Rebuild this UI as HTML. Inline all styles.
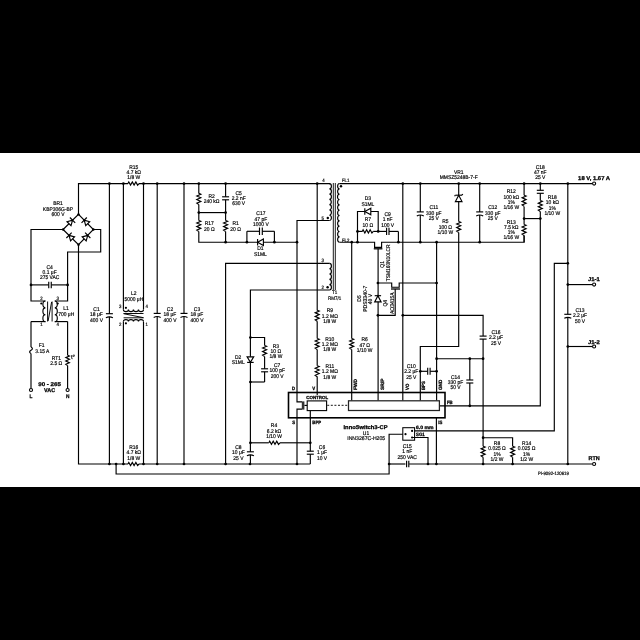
<!DOCTYPE html>
<html><head><meta charset="utf-8"><style>
html,body{margin:0;padding:0;background:#000;}
svg{display:block;will-change:transform;}
path{fill:none;stroke:#000;stroke-width:1.15;stroke-linejoin:miter;}
.w{fill:#fff;}
.f{fill:#000;stroke:none;}
.o{fill:#fff;stroke:#000;stroke-width:1.1;}
text{font-family:"Liberation Sans",sans-serif;text-rendering:geometricPrecision;fill:#000;stroke:#000;stroke-width:1.8;}
.b{font-weight:bold;stroke-width:2.6;}
</style></head><body>
<svg width="640" height="640" viewBox="0 0 640 640">
<rect x="0" y="0" width="640" height="640" fill="#000"/>
<rect x="0" y="153" width="640" height="334" fill="#fff"/>
<path d="M63.1,229.5 L78.5,214.4 L93.4,229.5 L78.5,244.7 L63.1,229.5"/>
<g transform="translate(70.8,221.95) rotate(-45)"><path d="M-2.5,-2.8 L-2.5,2.8 L2.5,0Z" class="w"/><path d="M2.5,-3.75 L2.5,3.75"/></g>
<g transform="translate(85.95,221.95) rotate(225)"><path d="M-2.5,-2.8 L-2.5,2.8 L2.5,0Z" class="w"/><path d="M2.5,-3.75 L2.5,3.75"/></g>
<g transform="translate(70.8,237.1) rotate(225)"><path d="M-2.5,-2.8 L-2.5,2.8 L2.5,0Z" class="w"/><path d="M2.5,-3.75 L2.5,3.75"/></g>
<g transform="translate(85.95,237.1) rotate(-45)"><path d="M-2.5,-2.8 L-2.5,2.8 L2.5,0Z" class="w"/><path d="M2.5,-3.75 L2.5,3.75"/></g>
<circle cx="78.5" cy="214.4" r="1.2" class="f"/>
<circle cx="63.1" cy="229.5" r="1.2" class="f"/>
<circle cx="93.4" cy="229.5" r="1.2" class="f"/>
<circle cx="78.5" cy="244.7" r="1.2" class="f"/>
<text class="t" text-anchor="middle" transform="translate(58,205.42) scale(0.09,0.1)" font-size="55">BR1</text>
<text class="t" text-anchor="middle" transform="translate(58,210.77) scale(0.09,0.1)" font-size="55">KBP306G-BP</text>
<text class="t" text-anchor="middle" transform="translate(58,216.12) scale(0.09,0.1)" font-size="55">600 V</text>
<path d="M78.5,214.4 L78.5,183.55 L128,183.55"/>
<path d="M139,183.55 L330,183.55"/>
<path d="M63.1,229.5 L31,229.5 L31,284.9"/>
<path d="M93.4,229.5 L100.7,229.5 L100.7,252 L67.6,252 L67.6,284.9"/>
<path d="M78.5,244.7 L78.5,464 L128,464"/>
<path d="M139,464 L310.3,464"/>
<path d="M31,284.9 L48.75,284.9"/>
<path d="M51.25,284.9 L67.6,284.9"/>
<path d="M48.75,281.65 L48.75,288.15 M51.25,281.65 L51.25,288.15"/>
<circle cx="31" cy="284.9" r="1.35" class="f"/>
<circle cx="67.6" cy="284.9" r="1.35" class="f"/>
<text class="t" text-anchor="middle" transform="translate(49.6,268.52) scale(0.09,0.1)" font-size="55">C4</text>
<text class="t" text-anchor="middle" transform="translate(49.6,273.87) scale(0.09,0.1)" font-size="55">0.1 μF</text>
<text class="t" text-anchor="middle" transform="translate(49.6,279.22) scale(0.09,0.1)" font-size="55">275 VAC</text>
<path d="M31,284.9 L31,301 L45.4,301"/>
<path d="M67.6,284.9 L67.6,301 L54.8,301"/>
<path d="M31,321.6 L45.4,321.6"/>
<path d="M67.6,321.6 L54.8,321.6"/>
<path d="M45.4,301 A2.5,3.43 0 0 0 45.4,307.87 A2.5,3.43 0 0 0 45.4,314.73 A2.5,3.43 0 0 0 45.4,321.6"/>
<path d="M54.8,301 A2.5,3.43 0 0 1 54.8,307.87 A2.5,3.43 0 0 1 54.8,314.73 A2.5,3.43 0 0 1 54.8,321.6"/>
<path d="M47.6,301.5 L47.6,321.5 M52.1,301.5 L52.1,321.5 M51.6,302 L48.1,321" style="stroke-width:0.95"/>
<circle cx="41.3" cy="303.5" r="1.1" class="f"/>
<circle cx="57.7" cy="303.5" r="1.1" class="f"/>
<text class="t" text-anchor="middle" transform="translate(41.4,300.23) scale(0.09,0.1)" font-size="48">2</text>
<text class="t" text-anchor="middle" transform="translate(57.7,300.23) scale(0.09,0.1)" font-size="48">3</text>
<text class="t" text-anchor="middle" transform="translate(41.4,326.43) scale(0.09,0.1)" font-size="48">1</text>
<text class="t" text-anchor="middle" transform="translate(57.7,326.43) scale(0.09,0.1)" font-size="48">4</text>
<text class="t" text-anchor="middle" transform="translate(66,310.27) scale(0.09,0.1)" font-size="55">L1</text>
<text class="t" text-anchor="middle" transform="translate(66.2,315.77) scale(0.09,0.1)" font-size="55">700 μH</text>
<path d="M31,321.6 L31,347"/>
<path d="M31,347 Q33.8,348.6 31,350.3 Q28.2,352 31,353.6"/>
<path d="M31,353.6 L31,388.4"/>
<text class="t" text-anchor="middle" transform="translate(41.6,347.37) scale(0.09,0.1)" font-size="55">F1</text>
<text class="t" text-anchor="middle" transform="translate(42.3,352.97) scale(0.09,0.1)" font-size="55">3.15 A</text>
<circle cx="31" cy="390" r="1.55" class="o"/>
<path d="M67.6,321.6 L67.6,355.2"/>
<path d="M67.6,355.2 L69.4,355.94 L65.8,357.61 L69.4,359.29 L65.8,360.96 L69.4,362.63 L65.8,364.3 L67.6,365.6"/>
<path d="M67.6,365.6 L67.6,388.4"/>
<text class="t" text-anchor="middle" transform="translate(73,359.11) scale(0.1,0.1)" font-size="62">t°</text>
<text class="t" text-anchor="middle" transform="translate(56.3,359.69) scale(0.09,0.1)" font-size="55">RT1</text>
<text class="t" text-anchor="middle" transform="translate(56.3,365.05) scale(0.09,0.1)" font-size="55">2.5 Ω</text>
<circle cx="67.6" cy="390" r="1.55" class="o"/>
<text class="b" text-anchor="middle" transform="translate(49.6,386.47) scale(0.09,0.1)" font-size="55" textLength="251.11" lengthAdjust="spacingAndGlyphs">90 - 265</text>
<text class="b" text-anchor="middle" transform="translate(49.6,391.87) scale(0.09,0.1)" font-size="55" textLength="122.22" lengthAdjust="spacingAndGlyphs">VAC</text>
<text class="b" text-anchor="middle" transform="translate(31,397.6) scale(0.09,0.1)" font-size="53">L</text>
<text class="b" text-anchor="middle" transform="translate(67.6,397.6) scale(0.09,0.1)" font-size="53">N</text>
<circle cx="109.4" cy="183.55" r="1.35" class="f"/>
<circle cx="123.4" cy="183.55" r="1.35" class="f"/>
<circle cx="143.5" cy="183.55" r="1.35" class="f"/>
<circle cx="157.2" cy="183.55" r="1.35" class="f"/>
<circle cx="184" cy="183.55" r="1.35" class="f"/>
<circle cx="198.8" cy="183.55" r="1.35" class="f"/>
<circle cx="225.6" cy="183.55" r="1.35" class="f"/>
<circle cx="317.2" cy="183.55" r="1.35" class="f"/>
<circle cx="109.4" cy="464" r="1.35" class="f"/>
<circle cx="116.1" cy="464" r="1.35" class="f"/>
<circle cx="123.4" cy="464" r="1.35" class="f"/>
<circle cx="143.5" cy="464" r="1.35" class="f"/>
<circle cx="157.2" cy="464" r="1.35" class="f"/>
<circle cx="184" cy="464" r="1.35" class="f"/>
<circle cx="225.6" cy="464" r="1.35" class="f"/>
<circle cx="250" cy="464" r="1.35" class="f"/>
<circle cx="297" cy="464" r="1.35" class="f"/>
<path d="M109.4,183.55 L109.4,313.7"/>
<path d="M109.4,316.7 L109.4,464"/>
<path d="M105.9,313.7 L112.9,313.7"/>
<path d="M105.9,317.7 Q109.4,315.9 112.9,317.7"/>
<text class="t" text-anchor="middle" transform="translate(96.5,311.12) scale(0.09,0.1)" font-size="55">C1</text>
<text class="t" text-anchor="middle" transform="translate(96.5,316.47) scale(0.09,0.1)" font-size="55">18 μF</text>
<text class="t" text-anchor="middle" transform="translate(96.5,321.82) scale(0.09,0.1)" font-size="55">400 V</text>
<path d="M128,183.55 L128.79,181.95 L130.55,185.15 L132.32,181.95 L134.09,185.15 L135.86,181.95 L137.62,185.15 L139,183.55"/>
<path d="M128,464 L128.79,462.4 L130.55,465.6 L132.32,462.4 L134.09,465.6 L135.86,462.4 L137.62,465.6 L139,464"/>
<text class="t" text-anchor="middle" transform="translate(133.8,168.72) scale(0.09,0.1)" font-size="55">R15</text>
<text class="t" text-anchor="middle" transform="translate(133.8,174.07) scale(0.09,0.1)" font-size="55">4.7 kΩ</text>
<text class="t" text-anchor="middle" transform="translate(133.8,179.42) scale(0.09,0.1)" font-size="55">1/8 W</text>
<text class="t" text-anchor="middle" transform="translate(133.8,448.82) scale(0.09,0.1)" font-size="55">R16</text>
<text class="t" text-anchor="middle" transform="translate(133.8,454.17) scale(0.09,0.1)" font-size="55">4.7 kΩ</text>
<text class="t" text-anchor="middle" transform="translate(133.8,459.52) scale(0.09,0.1)" font-size="55">1/8 W</text>
<path d="M123.4,183.55 L123.4,309.4"/>
<path d="M143.5,183.55 L143.5,309.4"/>
<path d="M123.4,309.4 A2.51,2.2 0 0 0 128.43,309.4 A2.51,2.2 0 0 0 133.45,309.4 A2.51,2.2 0 0 0 138.47,309.4 A2.51,2.2 0 0 0 143.5,309.4"/>
<path d="M123.6,313.5 L143.5,313.5 M123.6,313.7 L143.5,317.7 M123.6,317.8 L143.5,317.8" style="stroke-width:0.95"/>
<path d="M123.4,321.6 A2.51,2 0 0 1 128.43,321.6 A2.51,2 0 0 1 133.45,321.6 A2.51,2 0 0 1 138.47,321.6 A2.51,2 0 0 1 143.5,321.6"/>
<path d="M123.4,321.6 L123.4,464"/>
<path d="M143.5,321.6 L143.5,464"/>
<circle cx="125.9" cy="307.8" r="1.1" class="f"/>
<circle cx="125.9" cy="323.3" r="1.1" class="f"/>
<text class="t" text-anchor="middle" transform="translate(133.8,294.97) scale(0.09,0.1)" font-size="55">L2</text>
<text class="t" text-anchor="middle" transform="translate(133.8,300.57) scale(0.09,0.1)" font-size="55">5000 μH</text>
<text class="t" text-anchor="middle" transform="translate(120.3,308.43) scale(0.09,0.1)" font-size="48">3</text>
<text class="t" text-anchor="middle" transform="translate(146.6,308.43) scale(0.09,0.1)" font-size="48">4</text>
<text class="t" text-anchor="middle" transform="translate(120.3,326.33) scale(0.09,0.1)" font-size="48">2</text>
<text class="t" text-anchor="middle" transform="translate(146.6,326.33) scale(0.09,0.1)" font-size="48">1</text>
<path d="M157.2,183.55 L157.2,313.4"/>
<path d="M157.2,316.4 L157.2,464"/>
<path d="M153.7,313.4 L160.7,313.4"/>
<path d="M153.7,317.4 Q157.2,315.6 160.7,317.4"/>
<text class="t" text-anchor="middle" transform="translate(170,311.12) scale(0.09,0.1)" font-size="55">C2</text>
<text class="t" text-anchor="middle" transform="translate(170,316.47) scale(0.09,0.1)" font-size="55">18 μF</text>
<text class="t" text-anchor="middle" transform="translate(170,321.82) scale(0.09,0.1)" font-size="55">400 V</text>
<path d="M184,183.55 L184,313.4"/>
<path d="M184,316.4 L184,464"/>
<path d="M180.5,313.4 L187.5,313.4"/>
<path d="M180.5,317.4 Q184,315.6 187.5,317.4"/>
<text class="t" text-anchor="middle" transform="translate(197,311.12) scale(0.09,0.1)" font-size="55">C3</text>
<text class="t" text-anchor="middle" transform="translate(197,316.47) scale(0.09,0.1)" font-size="55">18 μF</text>
<text class="t" text-anchor="middle" transform="translate(197,321.82) scale(0.09,0.1)" font-size="55">400 V</text>
<path d="M198.8,183.55 L198.8,193.4"/>
<path d="M198.8,193.4 L200.8,194.2 L196.8,196 L200.8,197.8 L196.8,199.6 L200.8,201.4 L196.8,203.2 L198.8,204.6"/>
<path d="M198.8,204.6 L198.8,220.6"/>
<path d="M198.8,220.5 L200.8,221.29 L196.8,223.05 L200.8,224.82 L196.8,226.59 L200.8,228.36 L196.8,230.12 L198.8,231.5"/>
<path d="M198.8,231.5 L198.8,242.2 L225.6,242.2"/>
<path d="M198.8,212.6 L225.6,212.6"/>
<circle cx="198.8" cy="212.6" r="1.35" class="f"/>
<circle cx="225.6" cy="212.6" r="1.35" class="f"/>
<path d="M225.6,183.55 L225.6,196.8"/>
<path d="M225.6,199.8 L225.6,212.6"/>
<path d="M222.1,196.8 L229.1,196.8"/>
<path d="M222.1,199.8 L229.1,199.8"/>
<path d="M225.6,212.6 L225.6,220.5"/>
<path d="M225.6,220.5 L227.6,221.29 L223.6,223.05 L227.6,224.82 L223.6,226.59 L227.6,228.36 L223.6,230.12 L225.6,231.5"/>
<path d="M225.6,231.5 L225.6,242.2"/>
<text class="t" text-anchor="middle" transform="translate(211.6,197.5) scale(0.09,0.1)" font-size="55">R2</text>
<text class="t" text-anchor="middle" transform="translate(211.6,202.85) scale(0.09,0.1)" font-size="55">240 kΩ</text>
<text class="t" text-anchor="middle" transform="translate(209.3,225.39) scale(0.09,0.1)" font-size="55">R17</text>
<text class="t" text-anchor="middle" transform="translate(209.3,230.75) scale(0.09,0.1)" font-size="55">20 Ω</text>
<text class="t" text-anchor="middle" transform="translate(238.7,194.52) scale(0.09,0.1)" font-size="55">C5</text>
<text class="t" text-anchor="middle" transform="translate(238.7,199.87) scale(0.09,0.1)" font-size="55">2.2 nF</text>
<text class="t" text-anchor="middle" transform="translate(238.7,205.22) scale(0.09,0.1)" font-size="55">630 V</text>
<text class="t" text-anchor="middle" transform="translate(235.6,225.39) scale(0.09,0.1)" font-size="55">R1</text>
<text class="t" text-anchor="middle" transform="translate(235.6,230.75) scale(0.09,0.1)" font-size="55">20 Ω</text>
<path d="M225.6,242.2 L297,242.2"/>
<circle cx="225.6" cy="242.2" r="1.35" class="f"/>
<circle cx="246.9" cy="242.2" r="1.35" class="f"/>
<circle cx="274.4" cy="242.2" r="1.35" class="f"/>
<circle cx="297" cy="242.2" r="1.35" class="f"/>
<path d="M246.9,242.2 L246.9,231.3"/>
<path d="M274.4,242.2 L274.4,231.3"/>
<path d="M246.9,231.3 L259.5,231.3"/>
<path d="M262.3,231.3 L274.4,231.3"/>
<path d="M259.5,227.6 L259.5,235 M262.3,227.6 L262.3,235"/>
<g transform="translate(260.5,242.2) rotate(180)"><path d="M-2.9,-3.3 L-2.9,3.3 L2.9,0Z" class="w"/><path d="M2.9,-3.25 L2.9,3.25"/></g>
<text class="t" text-anchor="middle" transform="translate(260.9,215.22) scale(0.09,0.1)" font-size="55">C17</text>
<text class="t" text-anchor="middle" transform="translate(260.9,220.57) scale(0.09,0.1)" font-size="55">47 pF</text>
<text class="t" text-anchor="middle" transform="translate(260.9,225.92) scale(0.09,0.1)" font-size="55">1000 V</text>
<text class="t" text-anchor="middle" transform="translate(260.4,250.27) scale(0.09,0.1)" font-size="55">D1</text>
<text class="t" text-anchor="middle" transform="translate(260.4,255.87) scale(0.09,0.1)" font-size="55">S1ML</text>
<path d="M329.5,220.5 L297,220.5 L297,392.5"/>
<path d="M329.5,263.4 L225.6,263.4 L225.6,464"/>
<path d="M329.5,290 L250.4,290 L250.4,451.8"/>
<path d="M250.4,454.8 L250.4,464"/>
<circle cx="250.4" cy="337.5" r="1.35" class="f"/>
<circle cx="250.4" cy="382" r="1.35" class="f"/>
<path d="M250.4,337.5 L264.6,337.5 L264.6,345.5"/>
<path d="M264.6,345.5 L266.6,346.29 L262.6,348.05 L266.6,349.82 L262.6,351.59 L266.6,353.36 L262.6,355.12 L264.6,356.5"/>
<path d="M264.6,356.5 L264.6,368.8"/>
<path d="M264.6,371.8 L264.6,382"/>
<path d="M261.1,368.8 L268.1,368.8"/>
<path d="M261.1,371.8 L268.1,371.8"/>
<path d="M264.6,382 L250.4,382"/>
<g transform="translate(250.4,359.6) rotate(90)"><path d="M-2.8,-3.3 L-2.8,3.3 L2.8,0Z" class="w"/><path d="M2.8,-3.3 L2.8,3.3"/></g>
<text class="t" text-anchor="middle" transform="translate(238.2,358.67) scale(0.09,0.1)" font-size="55">D2</text>
<text class="t" text-anchor="middle" transform="translate(238.2,364.27) scale(0.09,0.1)" font-size="55">S1ML</text>
<text class="t" text-anchor="middle" transform="translate(275.9,347.72) scale(0.09,0.1)" font-size="55">R3</text>
<text class="t" text-anchor="middle" transform="translate(275.9,353.07) scale(0.09,0.1)" font-size="55">10 Ω</text>
<text class="t" text-anchor="middle" transform="translate(275.9,358.42) scale(0.09,0.1)" font-size="55">1/8 W</text>
<text class="t" text-anchor="middle" transform="translate(277.2,366.82) scale(0.09,0.1)" font-size="55">C7</text>
<text class="t" text-anchor="middle" transform="translate(277.2,372.17) scale(0.09,0.1)" font-size="55">100 pF</text>
<text class="t" text-anchor="middle" transform="translate(277.2,377.52) scale(0.09,0.1)" font-size="55">200 V</text>
<circle cx="250.4" cy="442.8" r="1.35" class="f"/>
<circle cx="310.3" cy="442.8" r="1.35" class="f"/>
<path d="M250.4,442.8 L268.8,442.8"/>
<path d="M268.9,442.8 L269.69,441.2 L271.45,444.4 L273.22,441.2 L274.99,444.4 L276.76,441.2 L278.52,444.4 L279.9,442.8"/>
<path d="M279.9,442.8 L310.3,442.8"/>
<text class="t" text-anchor="middle" transform="translate(274,427.32) scale(0.09,0.1)" font-size="55">R4</text>
<text class="t" text-anchor="middle" transform="translate(274,432.67) scale(0.09,0.1)" font-size="55">6.2 kΩ</text>
<text class="t" text-anchor="middle" transform="translate(274,438.02) scale(0.09,0.1)" font-size="55">1/10 W</text>
<path d="M246.9,451.8 L253.9,451.8"/>
<path d="M246.9,455.8 Q250.4,454 253.9,455.8"/>
<text class="t" text-anchor="middle" transform="translate(238.4,449.02) scale(0.09,0.1)" font-size="55">C8</text>
<text class="t" text-anchor="middle" transform="translate(238.4,454.37) scale(0.09,0.1)" font-size="55">10 μF</text>
<text class="t" text-anchor="middle" transform="translate(238.4,459.72) scale(0.09,0.1)" font-size="55">25 V</text>
<path d="M306.8,451.2 L313.8,451.2"/>
<path d="M306.8,454.2 L313.8,454.2"/>
<text class="t" text-anchor="middle" transform="translate(322,449.02) scale(0.09,0.1)" font-size="55">C6</text>
<text class="t" text-anchor="middle" transform="translate(322,454.37) scale(0.09,0.1)" font-size="55">1 μF</text>
<text class="t" text-anchor="middle" transform="translate(322,459.72) scale(0.09,0.1)" font-size="55">10 V</text>
<path d="M310.3,410.6 L310.3,451.2"/>
<path d="M310.3,454.2 L310.3,464"/>
<path d="M330,183.55 L329.5,183.55"/>
<path d="M329.4,183.55 A2,2.64 0 0 1 329.4,188.83 A2,2.64 0 0 1 329.4,194.11 A2,2.64 0 0 1 329.4,199.39 A2,2.64 0 0 1 329.4,204.66 A2,2.64 0 0 1 329.4,209.94 A2,2.64 0 0 1 329.4,215.22 A2,2.64 0 0 1 329.4,220.5"/>
<path d="M329.4,263.4 A2,2.66 0 0 1 329.4,268.72 A2,2.66 0 0 1 329.4,274.04 A2,2.66 0 0 1 329.4,279.36 A2,2.66 0 0 1 329.4,284.68 A2,2.66 0 0 1 329.4,290"/>
<path d="M339.5,183.55 A2,2.67 0 0 0 339.5,188.88 A2,2.67 0 0 0 339.5,194.21 A2,2.67 0 0 0 339.5,199.55 A2,2.67 0 0 0 339.5,204.88 A2,2.67 0 0 0 339.5,210.21 A2,2.67 0 0 0 339.5,215.54 A2,2.67 0 0 0 339.5,220.87 A2,2.67 0 0 0 339.5,226.2 A2,2.67 0 0 0 339.5,231.54 A2,2.67 0 0 0 339.5,236.87 A2,2.67 0 0 0 339.5,242.2"/>
<path d="M333.3,183 L333.3,290 M335.3,183 L335.3,290" style="stroke-width:0.9"/>
<circle cx="341" cy="186.3" r="1.2" class="f"/>
<circle cx="327.8" cy="218" r="1.2" class="f"/>
<circle cx="327.6" cy="287.3" r="1.2" class="f"/>
<text class="t" text-anchor="middle" transform="translate(323.4,182.43) scale(0.09,0.1)" font-size="48">4</text>
<text class="t" text-anchor="middle" transform="translate(322.8,219.73) scale(0.09,0.1)" font-size="48">5</text>
<text class="t" text-anchor="middle" transform="translate(322.8,262.03) scale(0.09,0.1)" font-size="48">3</text>
<text class="t" text-anchor="middle" transform="translate(322.8,289.03) scale(0.09,0.1)" font-size="48">2</text>
<text class="t" text-anchor="middle" transform="translate(345.7,182.43) scale(0.09,0.1)" font-size="48">FL1</text>
<text class="t" text-anchor="middle" transform="translate(345.7,241.53) scale(0.09,0.1)" font-size="48">FL2</text>
<text class="t" text-anchor="middle" transform="translate(334.7,294.25) scale(0.09,0.1)" font-size="50">T1</text>
<text class="t" text-anchor="middle" transform="translate(334.7,299.95) scale(0.09,0.1)" font-size="50">RM7/1</text>
<path d="M317.2,183.55 L317.2,310.4"/>
<path d="M317.2,310.3 L319.2,311.09 L315.2,312.85 L319.2,314.62 L315.2,316.39 L319.2,318.16 L315.2,319.93 L317.2,321.3"/>
<path d="M317.2,321.2 L317.2,338.6"/>
<path d="M317.2,338.5 L319.2,339.29 L315.2,341.05 L319.2,342.82 L315.2,344.59 L319.2,346.36 L315.2,348.12 L317.2,349.5"/>
<path d="M317.2,349.4 L317.2,365.8"/>
<path d="M317.2,365.7 L319.2,366.49 L315.2,368.25 L319.2,370.02 L315.2,371.79 L319.2,373.56 L315.2,375.32 L317.2,376.7"/>
<path d="M317.2,376.6 L317.2,395"/>
<text class="t" text-anchor="middle" transform="translate(329.8,312.42) scale(0.09,0.1)" font-size="55">R9</text>
<text class="t" text-anchor="middle" transform="translate(329.8,317.77) scale(0.09,0.1)" font-size="55">1.2 MΩ</text>
<text class="t" text-anchor="middle" transform="translate(329.8,323.12) scale(0.09,0.1)" font-size="55">1/8 W</text>
<text class="t" text-anchor="middle" transform="translate(329.8,340.62) scale(0.09,0.1)" font-size="55">R10</text>
<text class="t" text-anchor="middle" transform="translate(329.8,345.97) scale(0.09,0.1)" font-size="55">1.2 MΩ</text>
<text class="t" text-anchor="middle" transform="translate(329.8,351.32) scale(0.09,0.1)" font-size="55">1/8 W</text>
<text class="t" text-anchor="middle" transform="translate(329.8,367.92) scale(0.09,0.1)" font-size="55">R11</text>
<text class="t" text-anchor="middle" transform="translate(329.8,373.27) scale(0.09,0.1)" font-size="55">1.2 MΩ</text>
<text class="t" text-anchor="middle" transform="translate(329.8,378.62) scale(0.09,0.1)" font-size="55">1/8 W</text>
<path d="M339.5,183.55 L592.2,183.55"/>
<circle cx="594.1" cy="183.55" r="1.55" class="o"/>
<circle cx="402.8" cy="183.55" r="1.35" class="f"/>
<circle cx="420.3" cy="183.55" r="1.35" class="f"/>
<circle cx="458.7" cy="183.55" r="1.35" class="f"/>
<circle cx="479.7" cy="183.55" r="1.35" class="f"/>
<circle cx="524.1" cy="183.55" r="1.35" class="f"/>
<circle cx="540.3" cy="183.55" r="1.35" class="f"/>
<circle cx="567.8" cy="183.55" r="1.35" class="f"/>
<path d="M339.5,242.2 L374.6,242.2 L374.6,247.4 L381.6,247.4 L381.6,242.2 L524.1,242.2 L524.1,235.5"/>
<path d="M373.8,248.8 L382.4,248.8" style="stroke-width:1.3"/>
<path d="M378.1,248.8 L378.1,400.6"/>
<circle cx="351.7" cy="242.2" r="1.35" class="f"/>
<circle cx="357.5" cy="242.2" r="1.35" class="f"/>
<circle cx="398.4" cy="242.2" r="1.35" class="f"/>
<circle cx="420.3" cy="242.2" r="1.35" class="f"/>
<circle cx="436.6" cy="242.2" r="1.35" class="f"/>
<circle cx="479.7" cy="242.2" r="1.35" class="f"/>
<text class="t" text-anchor="middle" transform="translate(381.9,264.4) rotate(-90) translate(0,1.87) scale(0.09,0.1)" font-size="55">Q1</text>
<text class="t" text-anchor="middle" transform="translate(387.75,262.8) rotate(-90) translate(0,1.87) scale(0.09,0.1)" font-size="55" textLength="408.89" lengthAdjust="spacingAndGlyphs">TSM160N10LCR</text>
<path d="M357.5,242.2 L357.5,211.5 L364.6,211.5"/>
<path d="M371,211.5 L378.2,211.5 L378.2,231.4"/>
<g transform="translate(367.8,211.5) rotate(180)"><path d="M-3,-3.3 L-3,3.3 L3,0Z" class="w"/><path d="M3,-3.3 L3,3.3"/></g>
<path d="M357.5,231.4 L362.4,231.4"/>
<path d="M362.3,231.4 L363.09,229.8 L364.85,233 L366.62,229.8 L368.39,233 L370.16,229.8 L371.93,233 L373.3,231.4"/>
<path d="M373.2,231.4 L378.2,231.4"/>
<circle cx="357.5" cy="231.4" r="1.35" class="f"/>
<circle cx="378.2" cy="231.4" r="1.35" class="f"/>
<path d="M378.2,231.4 L386.6,231.4"/>
<path d="M389,231.4 L398.4,231.4"/>
<path d="M386.6,227.7 L386.6,235.1 M389,227.7 L389,235.1"/>
<path d="M398.4,231.4 L398.4,242.2"/>
<text class="t" text-anchor="middle" transform="translate(367.9,200.27) scale(0.09,0.1)" font-size="55">D3</text>
<text class="t" text-anchor="middle" transform="translate(367.9,205.87) scale(0.09,0.1)" font-size="55">S1ML</text>
<text class="t" text-anchor="middle" transform="translate(367.9,221.47) scale(0.09,0.1)" font-size="55">R7</text>
<text class="t" text-anchor="middle" transform="translate(367.9,227.07) scale(0.09,0.1)" font-size="55">10 Ω</text>
<text class="t" text-anchor="middle" transform="translate(387.6,216.12) scale(0.09,0.1)" font-size="55">C9</text>
<text class="t" text-anchor="middle" transform="translate(387.6,221.47) scale(0.09,0.1)" font-size="55">1 nF</text>
<text class="t" text-anchor="middle" transform="translate(387.6,226.82) scale(0.09,0.1)" font-size="55">100 V</text>
<path d="M351.7,242.2 L351.7,338.5"/>
<path d="M351.7,338.5 L353.7,339.29 L349.7,341.05 L353.7,342.82 L349.7,344.59 L353.7,346.36 L349.7,348.12 L351.7,349.5"/>
<path d="M351.7,349.5 L351.7,400.6"/>
<text class="t" text-anchor="middle" transform="translate(364.7,341.32) scale(0.09,0.1)" font-size="55">R6</text>
<text class="t" text-anchor="middle" transform="translate(364.7,346.67) scale(0.09,0.1)" font-size="55">47 Ω</text>
<text class="t" text-anchor="middle" transform="translate(364.7,352.02) scale(0.09,0.1)" font-size="55">1/10 W</text>
<circle cx="377.9" cy="283" r="1.35" class="f"/>
<circle cx="377.9" cy="315.3" r="1.35" class="f"/>
<g transform="translate(377.9,298.8) rotate(-90)"><path d="M-3.1,-3.2 L-3.1,3.2 L3.1,0Z" class="w"/><path d="M3.1,-3.2 L3.1,3.2"/></g>
<path d="M377.9,283 L391.7,283 L391.7,287.2 L399.2,287.2 L399.2,283 L436.6,283"/>
<path d="M391,289 L400,289" style="stroke-width:1.3"/>
<path d="M395.2,289 L395.2,315.3 L377.9,315.3"/>
<circle cx="436.6" cy="283" r="1.35" class="f"/>
<text class="t" text-anchor="middle" transform="translate(359.6,298.5) rotate(-90) translate(0,1.87) scale(0.09,0.1)" font-size="55">D5</text>
<text class="t" text-anchor="middle" transform="translate(364.9,298.8) rotate(-90) translate(0,1.87) scale(0.09,0.1)" font-size="55" textLength="288.89" lengthAdjust="spacingAndGlyphs">PDS3340-7</text>
<text class="t" text-anchor="middle" transform="translate(370.5,299.1) rotate(-90) translate(0,1.87) scale(0.09,0.1)" font-size="55">40 V</text>
<text class="t" text-anchor="middle" transform="translate(385.2,303.2) rotate(-90) translate(0,1.87) scale(0.09,0.1)" font-size="55">Q4</text>
<text class="t" text-anchor="middle" transform="translate(392.2,303.2) rotate(-90) translate(0,1.87) scale(0.09,0.1)" font-size="55">AO3415A</text>
<path d="M402.8,183.55 L402.8,400.6"/>
<circle cx="402.8" cy="315.3" r="1.35" class="f"/>
<path d="M402.8,315.3 L483.1,315.3 L483.1,336"/>
<path d="M483.1,336 L483.1,336.1"/>
<path d="M483.1,339.1 L483.1,446.3"/>
<path d="M479.6,336.1 L486.6,336.1"/>
<path d="M479.6,339.1 L486.6,339.1"/>
<path d="M483.1,446.3 L485.1,447.09 L481.1,448.85 L485.1,450.62 L481.1,452.39 L485.1,454.16 L481.1,455.93 L483.1,457.3"/>
<path d="M483.1,457.3 L483.1,464"/>
<text class="t" text-anchor="middle" transform="translate(496,333.92) scale(0.09,0.1)" font-size="55">C16</text>
<text class="t" text-anchor="middle" transform="translate(496,339.27) scale(0.09,0.1)" font-size="55">2.2 μF</text>
<text class="t" text-anchor="middle" transform="translate(496,344.62) scale(0.09,0.1)" font-size="55">25 V</text>
<path d="M420.3,183.55 L420.3,211.9"/>
<path d="M420.3,214.9 L420.3,242.2"/>
<path d="M416.8,211.9 L423.8,211.9"/>
<path d="M416.8,215.9 Q420.3,214.1 423.8,215.9"/>
<text class="t" text-anchor="middle" transform="translate(433.8,209.42) scale(0.09,0.1)" font-size="55">C11</text>
<text class="t" text-anchor="middle" transform="translate(433.8,214.77) scale(0.09,0.1)" font-size="55">330 μF</text>
<text class="t" text-anchor="middle" transform="translate(433.8,220.12) scale(0.09,0.1)" font-size="55">25 V</text>
<path d="M479.7,183.55 L479.7,211.9"/>
<path d="M479.7,214.9 L479.7,242.2"/>
<path d="M476.2,211.9 L483.2,211.9"/>
<path d="M476.2,215.9 Q479.7,214.1 483.2,215.9"/>
<text class="t" text-anchor="middle" transform="translate(492.8,209.42) scale(0.09,0.1)" font-size="55">C12</text>
<text class="t" text-anchor="middle" transform="translate(492.8,214.77) scale(0.09,0.1)" font-size="55">330 μF</text>
<text class="t" text-anchor="middle" transform="translate(492.8,220.12) scale(0.09,0.1)" font-size="55">25 V</text>
<path d="M458.7,183.55 L458.7,195"/>
<g transform="translate(458.7,198.4) rotate(-90)"><path d="M-3.2,-3.3 L-3.2,3.3 L3.2,0Z" class="w"/><path d="M3.2,-3.3 L3.2,3.3"/></g>
<path d="M455.4,195.1 L454.6,196.3 M462,195.1 L462.8,194" />
<path d="M458.7,201.6 L458.7,221.5"/>
<path d="M458.7,221.5 L460.7,222.29 L456.7,224.05 L460.7,225.82 L456.7,227.59 L460.7,229.36 L456.7,231.12 L458.7,232.5"/>
<path d="M458.7,232.5 L458.7,346.5 L420.3,346.5 L420.3,400.6"/>
<text class="t" text-anchor="middle" transform="translate(458.7,174.12) scale(0.09,0.1)" font-size="55">VR1</text>
<text class="t" text-anchor="middle" transform="translate(458.7,179.22) scale(0.09,0.1)" font-size="55">MMSZ5248B-7-F</text>
<text class="t" text-anchor="middle" transform="translate(445.4,223.42) scale(0.09,0.1)" font-size="55">R5</text>
<text class="t" text-anchor="middle" transform="translate(445.4,228.77) scale(0.09,0.1)" font-size="55">100 Ω</text>
<text class="t" text-anchor="middle" transform="translate(445.4,234.12) scale(0.09,0.1)" font-size="55">1/10 W</text>
<path d="M436.6,242.2 L436.6,400.6"/>
<circle cx="436.6" cy="358.7" r="1.35" class="f"/>
<circle cx="483.1" cy="358.7" r="1.35" class="f"/>
<circle cx="469.8" cy="358.7" r="1.35" class="f"/>
<path d="M436.6,358.7 L483.1,358.7"/>
<circle cx="420.3" cy="371.3" r="1.35" class="f"/>
<circle cx="436.6" cy="371.3" r="1.35" class="f"/>
<path d="M420.3,371.3 L427.7,371.3"/>
<path d="M430.1,371.3 L436.6,371.3"/>
<path d="M427.7,367.8 L427.7,374.8 M430.1,367.8 L430.1,374.8"/>
<text class="t" text-anchor="middle" transform="translate(411.3,367.82) scale(0.09,0.1)" font-size="55">C10</text>
<text class="t" text-anchor="middle" transform="translate(411.3,373.17) scale(0.09,0.1)" font-size="55">2.2 μF</text>
<text class="t" text-anchor="middle" transform="translate(411.3,378.52) scale(0.09,0.1)" font-size="55">25 V</text>
<path d="M469.8,358.7 L469.8,380"/>
<path d="M469.8,383 L469.8,405.8"/>
<path d="M466.3,380 L473.3,380"/>
<path d="M466.3,383 L473.3,383"/>
<circle cx="469.8" cy="405.8" r="1.35" class="f"/>
<text class="t" text-anchor="middle" transform="translate(455.5,378.52) scale(0.09,0.1)" font-size="55">C14</text>
<text class="t" text-anchor="middle" transform="translate(455.5,383.87) scale(0.09,0.1)" font-size="55">330 pF</text>
<text class="t" text-anchor="middle" transform="translate(455.5,389.22) scale(0.09,0.1)" font-size="55">50 V</text>
<path d="M439.4,405.8 L540.3,405.8 L540.3,218.6"/>
<text class="b" text-anchor="middle" transform="translate(449.8,404.33) scale(0.09,0.1)" font-size="48">FB</text>
<path d="M524.1,183.55 L524.1,195.2"/>
<path d="M524.1,195.3 L526.1,196.09 L522.1,197.85 L526.1,199.62 L522.1,201.39 L526.1,203.16 L522.1,204.93 L524.1,206.3"/>
<path d="M524.1,206.4 L524.1,224.5"/>
<path d="M524.1,224.5 L526.1,225.29 L522.1,227.05 L526.1,228.82 L522.1,230.59 L526.1,232.36 L522.1,234.12 L524.1,235.5"/>
<path d="M524.1,235.5 L524.1,242.2"/>
<path d="M524.1,218.6 L540.3,218.6"/>
<circle cx="524.1" cy="218.6" r="1.35" class="f"/>
<circle cx="540.3" cy="218.6" r="1.35" class="f"/>
<path d="M540.3,183.55 L540.3,190.3"/>
<path d="M540.3,193.3 L540.3,200.6"/>
<path d="M536.8,190.3 L543.8,190.3"/>
<path d="M536.8,193.3 L543.8,193.3"/>
<path d="M540.3,200.6 L542.3,201.39 L538.3,203.15 L542.3,204.92 L538.3,206.69 L542.3,208.46 L538.3,210.22 L540.3,211.6"/>
<path d="M540.3,211.6 L540.3,218.6"/>
<text class="t" text-anchor="middle" transform="translate(511.3,193.42) scale(0.09,0.1)" font-size="55">R12</text>
<text class="t" text-anchor="middle" transform="translate(511.3,198.72) scale(0.09,0.1)" font-size="55">100 kΩ</text>
<text class="t" text-anchor="middle" transform="translate(511.3,204.02) scale(0.09,0.1)" font-size="55">1%</text>
<text class="t" text-anchor="middle" transform="translate(511.3,209.32) scale(0.09,0.1)" font-size="55">1/16 W</text>
<text class="t" text-anchor="middle" transform="translate(511.3,223.52) scale(0.09,0.1)" font-size="55">R13</text>
<text class="t" text-anchor="middle" transform="translate(511.3,228.82) scale(0.09,0.1)" font-size="55">7.5 kΩ</text>
<text class="t" text-anchor="middle" transform="translate(511.3,234.12) scale(0.09,0.1)" font-size="55">1%</text>
<text class="t" text-anchor="middle" transform="translate(511.3,239.42) scale(0.09,0.1)" font-size="55">1/16 W</text>
<text class="t" text-anchor="middle" transform="translate(540.3,168.72) scale(0.09,0.1)" font-size="55">C18</text>
<text class="t" text-anchor="middle" transform="translate(540.3,174.07) scale(0.09,0.1)" font-size="55">47 nF</text>
<text class="t" text-anchor="middle" transform="translate(540.3,179.42) scale(0.09,0.1)" font-size="55">25 V</text>
<text class="t" text-anchor="middle" transform="translate(552.3,198.77) scale(0.09,0.1)" font-size="55">R18</text>
<text class="t" text-anchor="middle" transform="translate(552.3,204.17) scale(0.09,0.1)" font-size="55">10 kΩ</text>
<text class="t" text-anchor="middle" transform="translate(552.3,209.57) scale(0.09,0.1)" font-size="55">1%</text>
<text class="t" text-anchor="middle" transform="translate(552.3,214.97) scale(0.09,0.1)" font-size="55">1/10 W</text>
<text class="b" text-anchor="middle" transform="translate(594.1,179.7) scale(0.09,0.1)" font-size="56" textLength="355.56" lengthAdjust="spacingAndGlyphs">18 V, 1.67 A</text>
<path d="M567.8,183.55 L567.8,314.3"/>
<path d="M567.8,317.3 L567.8,464"/>
<path d="M564.3,314.3 L571.3,314.3"/>
<path d="M564.3,318.3 Q567.8,316.5 571.3,318.3"/>
<circle cx="567.8" cy="263.3" r="1.35" class="f"/>
<circle cx="567.8" cy="284.6" r="1.35" class="f"/>
<circle cx="567.8" cy="346.5" r="1.35" class="f"/>
<circle cx="567.8" cy="464" r="1.35" class="f"/>
<path d="M567.8,284.6 L592.2,284.6"/>
<circle cx="594.1" cy="284.6" r="1.55" class="o"/>
<path d="M567.8,346.5 L592.2,346.5"/>
<circle cx="594.1" cy="346.5" r="1.55" class="o"/>
<text class="b" text-anchor="middle" transform="translate(593.8,281.37) scale(0.09,0.1)" font-size="55" textLength="131.11" lengthAdjust="spacingAndGlyphs">J1-1</text>
<text class="b" text-anchor="middle" transform="translate(593.8,343.67) scale(0.09,0.1)" font-size="55" textLength="131.11" lengthAdjust="spacingAndGlyphs">J1-2</text>
<text class="t" text-anchor="middle" transform="translate(580,312.12) scale(0.09,0.1)" font-size="55">C13</text>
<text class="t" text-anchor="middle" transform="translate(580,317.47) scale(0.09,0.1)" font-size="55">2.2 μF</text>
<text class="t" text-anchor="middle" transform="translate(580,322.82) scale(0.09,0.1)" font-size="55">50 V</text>
<path d="M567.8,263.3 L554.3,263.3 L554.3,430.9 L412.1,430.9"/>
<path d="M389.1,464 L405.4,464"/>
<path d="M409.1,464 L592.2,464"/>
<circle cx="594.1" cy="464" r="1.55" class="o"/>
<path d="M406.6,460.7 L406.6,467.3 M408.8,460.7 L408.8,467.3"/>
<circle cx="389.1" cy="464" r="1.35" class="f"/>
<circle cx="428" cy="464" r="1.35" class="f"/>
<circle cx="436.4" cy="464" r="1.35" class="f"/>
<circle cx="483.1" cy="464" r="1.35" class="f"/>
<circle cx="512.6" cy="464" r="1.35" class="f"/>
<text class="b" text-anchor="middle" transform="translate(594.1,460.27) scale(0.09,0.1)" font-size="55" textLength="124.44" lengthAdjust="spacingAndGlyphs">RTN</text>
<text class="t" text-anchor="middle" transform="translate(553.4,475.03) scale(0.09,0.1)" font-size="48">PI-9092-120619</text>
<path d="M116.1,464 L116.1,474 L389.1,474 L389.1,434.2 L405.5,434.2"/>
<rect x="402.8" y="427.7" width="11.8" height="12.5" class="w" style="stroke:#000;stroke-width:1.05"/>
<circle cx="405.5" cy="434.2" r="1.1" class="f"/>
<circle cx="412.1" cy="430.9" r="1.1" class="f"/>
<circle cx="412.1" cy="437.5" r="1.1" class="f"/>
<path d="M412.1,437.5 L428,437.5 L428,464"/>
<text class="b" text-anchor="start" transform="translate(416,429.23) scale(0.09,0.1)" font-size="48" textLength="193.33" lengthAdjust="spacingAndGlyphs">6.0 mm</text>
<text class="b" text-anchor="start" transform="translate(416,436.43) scale(0.09,0.1)" font-size="48" textLength="96.67" lengthAdjust="spacingAndGlyphs">SG1</text>
<text class="t" text-anchor="middle" transform="translate(407.2,447.67) scale(0.09,0.1)" font-size="55">C15</text>
<text class="t" text-anchor="middle" transform="translate(407.2,453.37) scale(0.09,0.1)" font-size="55">1 nF</text>
<text class="t" text-anchor="middle" transform="translate(407.2,459.07) scale(0.09,0.1)" font-size="55">250 VAC</text>
<path d="M436.4,418 L436.4,464"/>
<circle cx="483.1" cy="437.7" r="1.35" class="f"/>
<path d="M483.1,437.7 L512.6,437.7 L512.6,446.3"/>
<path d="M512.6,446.3 L514.6,447.09 L510.6,448.85 L514.6,450.62 L510.6,452.39 L514.6,454.16 L510.6,455.93 L512.6,457.3"/>
<path d="M512.6,457.3 L512.6,464"/>
<text class="t" text-anchor="middle" transform="translate(497,444.87) scale(0.09,0.1)" font-size="55">R8</text>
<text class="t" text-anchor="middle" transform="translate(497,450.27) scale(0.09,0.1)" font-size="55">0.025 Ω</text>
<text class="t" text-anchor="middle" transform="translate(497,455.67) scale(0.09,0.1)" font-size="55">1%</text>
<text class="t" text-anchor="middle" transform="translate(497,461.07) scale(0.09,0.1)" font-size="55">1/2 W</text>
<text class="t" text-anchor="middle" transform="translate(526.6,444.87) scale(0.09,0.1)" font-size="55">R14</text>
<text class="t" text-anchor="middle" transform="translate(526.6,450.27) scale(0.09,0.1)" font-size="55">0.025 Ω</text>
<text class="t" text-anchor="middle" transform="translate(526.6,455.67) scale(0.09,0.1)" font-size="55">1%</text>
<text class="t" text-anchor="middle" transform="translate(526.6,461.07) scale(0.09,0.1)" font-size="55">1/2 W</text>
<rect x="288.5" y="392.5" width="156.5" height="25.3" style="fill:none;stroke:#000;stroke-width:1.6"/>
<rect x="307.2" y="400.9" width="19.4" height="9.7" class="w" style="stroke:#000;stroke-width:1.1"/>
<rect x="348.5" y="400.8" width="90.9" height="9.7" style="fill:none;stroke:#222;stroke-width:1.25"/>
<path d="M327.2,405.4 L348.5,405.4" style="stroke-dasharray:2,1.6;stroke:#444"/>
<path d="M297,392.5 L297,401.9 L302,401.9"/>
<path d="M302,409.1 L297,409.1 L297,464"/>
<rect x="301.8" y="401.4" width="2.6" height="8.2" fill="#333"/>
<path d="M304.4,405.4 L307.2,405.4"/>
<text class="b" text-anchor="middle" transform="translate(317.2,398.8) scale(0.09,0.1)" font-size="44" textLength="242.22" lengthAdjust="spacingAndGlyphs">CONTROL</text>
<text class="b" text-anchor="middle" transform="translate(293.5,390.43) scale(0.09,0.1)" font-size="48">D</text>
<text class="b" text-anchor="middle" transform="translate(313.8,390.43) scale(0.09,0.1)" font-size="48">V</text>
<text class="b" text-anchor="middle" transform="translate(293.8,423.93) scale(0.09,0.1)" font-size="48">S</text>
<text class="b" text-anchor="middle" transform="translate(316.8,423.93) scale(0.09,0.1)" font-size="48">BPP</text>
<text class="b" text-anchor="middle" transform="translate(440.3,423.83) scale(0.09,0.1)" font-size="48">IS</text>
<text class="b" text-anchor="start" transform="translate(355.4,390) rotate(-90) translate(0,1.63) scale(0.09,0.1)" font-size="48" textLength="121.11" lengthAdjust="spacingAndGlyphs">FWD</text>
<text class="b" text-anchor="start" transform="translate(381.9,390) rotate(-90) translate(0,1.63) scale(0.09,0.1)" font-size="48" textLength="127.78" lengthAdjust="spacingAndGlyphs">SR/P</text>
<text class="b" text-anchor="start" transform="translate(406.9,390) rotate(-90) translate(0,1.63) scale(0.09,0.1)" font-size="48" textLength="70" lengthAdjust="spacingAndGlyphs">VO</text>
<text class="b" text-anchor="start" transform="translate(423.5,390) rotate(-90) translate(0,1.63) scale(0.09,0.1)" font-size="48" textLength="97.78" lengthAdjust="spacingAndGlyphs">BPS</text>
<text class="b" text-anchor="start" transform="translate(439.9,390) rotate(-90) translate(0,1.63) scale(0.09,0.1)" font-size="48" textLength="113.33" lengthAdjust="spacingAndGlyphs">GND</text>
<text class="b" text-anchor="middle" transform="translate(365.5,428.87) scale(0.09,0.1)" font-size="55" textLength="488.89" lengthAdjust="spacingAndGlyphs">InnoSwitch3-CP</text>
<text class="t" text-anchor="middle" transform="translate(366,434.87) scale(0.09,0.1)" font-size="55">U1</text>
<text class="t" text-anchor="middle" transform="translate(366.2,440.37) scale(0.09,0.1)" font-size="55" textLength="422.22" lengthAdjust="spacingAndGlyphs">INN3267C-H205</text>
</svg>
</body></html>
